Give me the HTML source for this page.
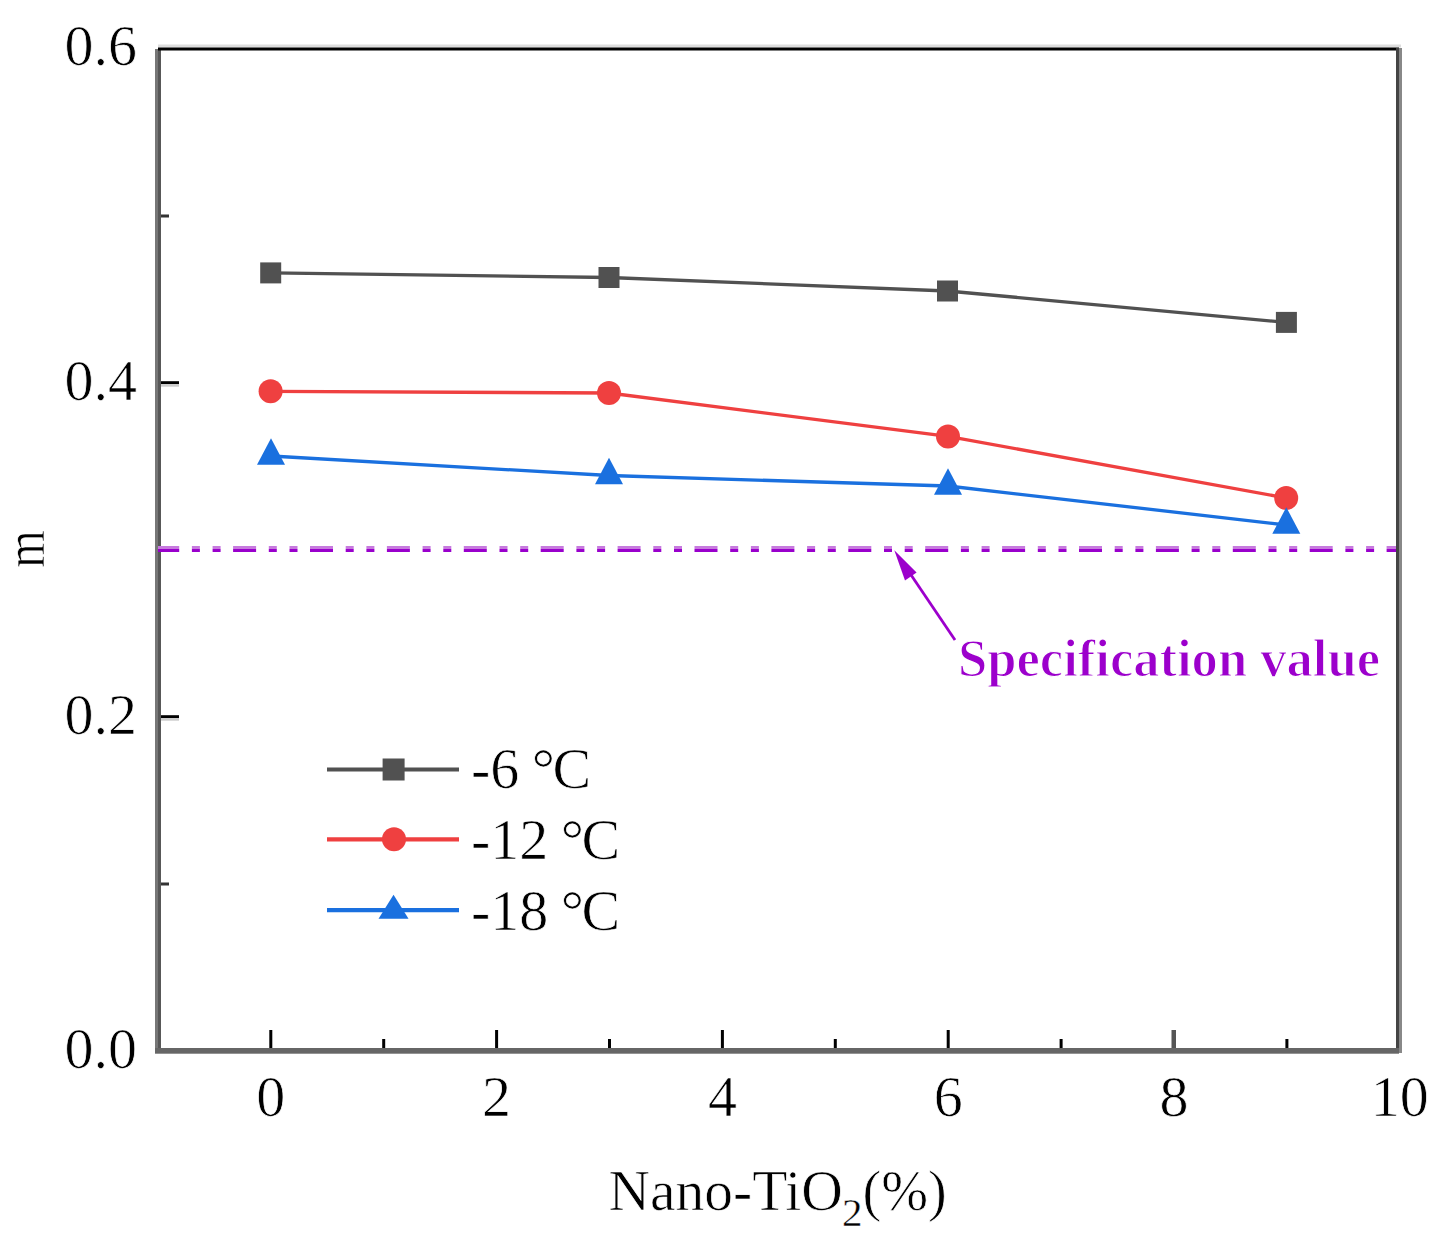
<!DOCTYPE html>
<html><head><meta charset="utf-8"><style>
html,body{margin:0;padding:0;background:#fff;}
body{width:1442px;height:1246px;overflow:hidden;font-family:"Liberation Serif",serif;}
svg{display:block;}
</style></head><body>
<svg width="1442" height="1246" viewBox="0 0 1442 1246">
<rect width="1442" height="1246" fill="#fff"/>
<rect x="155" y="49" width="3" height="1004" fill="#777"/>
<rect x="158" y="49" width="3" height="1004" fill="#585858"/>
<rect x="158" y="44.5" width="1243" height="3" fill="#ddd"/>
<rect x="158" y="47.5" width="1241" height="3" fill="#000"/>
<rect x="1396" y="48" width="3" height="1005" fill="#444"/>
<rect x="1399" y="48" width="3" height="1005" fill="#888"/>
<rect x="155" y="1048" width="1244" height="5.7" fill="#666"/>
<rect x="269.3" y="1030" width="3" height="18" fill="#000"/>
<rect x="495.1" y="1030" width="3" height="18" fill="#000"/>
<rect x="720.9" y="1030" width="3" height="18" fill="#000"/>
<rect x="946.7" y="1030" width="3" height="18" fill="#000"/>
<rect x="1171.5" y="1030" width="4.5" height="18" fill="#555"/>
<rect x="382.2" y="1039" width="3" height="9" fill="#000"/>
<rect x="608.0" y="1039" width="3" height="9" fill="#000"/>
<rect x="833.8" y="1039" width="3" height="9" fill="#000"/>
<rect x="1059.6" y="1039" width="3" height="9" fill="#000"/>
<rect x="1285.4" y="1039" width="3" height="9" fill="#000"/>
<rect x="161" y="715.2" width="18" height="3" fill="#000"/>
<rect x="161" y="718.2" width="18" height="2.5" fill="#ccc"/>
<rect x="161" y="381.2" width="18" height="3" fill="#000"/>
<rect x="161" y="384.2" width="18" height="2.5" fill="#ccc"/>
<rect x="161" y="882.5" width="8" height="3" fill="#333"/>
<rect x="161" y="548.5" width="8" height="3" fill="#333"/>
<rect x="161" y="214.5" width="8" height="3" fill="#333"/>
<line x1="158" y1="547.5" x2="1396" y2="547.5" stroke="#c77ade" stroke-width="2.8" stroke-dasharray="23 12.7 8 12.7 8 12.5" stroke-dashoffset="1.8"/>
<line x1="158" y1="550.5" x2="1396" y2="550.5" stroke="#9900cc" stroke-width="3" stroke-dasharray="23 12.7 8 12.7 8 12.5" stroke-dashoffset="1.8"/>
<polyline points="270.7,272.9 609.0,277.5 947.5,291.0 1286.4,322.4" fill="none" stroke="#515151" stroke-width="3.3"/>
<rect x="260.2" y="262.4" width="21" height="21" fill="#515151"/>
<rect x="598.5" y="267.0" width="21" height="21" fill="#515151"/>
<rect x="937.0" y="280.5" width="21" height="21" fill="#515151"/>
<rect x="1275.9" y="311.9" width="21" height="21" fill="#515151"/>
<polyline points="270.6,391.3 609.0,393.0 948.0,436.4 1286.2,498.0" fill="none" stroke="#ef4040" stroke-width="3.3"/>
<circle cx="270.6" cy="391.3" r="12" fill="#ef4040"/>
<circle cx="609.0" cy="393.0" r="12" fill="#ef4040"/>
<circle cx="948.0" cy="436.4" r="12" fill="#ef4040"/>
<circle cx="1286.2" cy="498.0" r="12" fill="#ef4040"/>
<polyline points="271.0,456.0 609.0,475.5 948.0,486.0 1286.3,525.0" fill="none" stroke="#1a70df" stroke-width="3.3"/>
<polygon points="271.0,438.2 285.0,464.8 257.0,464.8" fill="#1a70df"/>
<polygon points="609.0,457.7 623.0,484.3 595.0,484.3" fill="#1a70df"/>
<polygon points="948.0,468.2 962.0,494.8 934.0,494.8" fill="#1a70df"/>
<polygon points="1286.3,507.2 1300.3,533.8 1272.3,533.8" fill="#1a70df"/>
<line x1="955" y1="640" x2="905" y2="566" stroke="#9c00cc" stroke-width="2.8"/>
<polygon points="894.3,550.3 916.6,572.6 905,580.4" fill="#9c00cc"/>
<line x1="327" y1="769.5" x2="459" y2="769.5" stroke="#515151" stroke-width="4.2"/>
<rect x="382.6" y="758.5" width="22" height="22" fill="#515151"/>
<line x1="327" y1="839.3" x2="459" y2="839.3" stroke="#ef4040" stroke-width="4.2"/>
<circle cx="394" cy="839.3" r="12" fill="#ef4040"/>
<line x1="327" y1="910.2" x2="459" y2="910.2" stroke="#1a70df" stroke-width="4.2"/>
<polygon points="393.5,894.7 408.5,918.8000000000001 378.5,918.8000000000001" fill="#1a70df"/>
<text x="137" y="64.5" font-family="Liberation Serif, serif" font-size="58" text-anchor="end" fill="#000" stroke="#fff" stroke-width="0.7">0.6</text>
<text x="137" y="399.5" font-family="Liberation Serif, serif" font-size="58" text-anchor="end" fill="#000" stroke="#fff" stroke-width="0.7">0.4</text>
<text x="137" y="734" font-family="Liberation Serif, serif" font-size="58" text-anchor="end" fill="#000" stroke="#fff" stroke-width="0.7">0.2</text>
<text x="137" y="1067.5" font-family="Liberation Serif, serif" font-size="58" text-anchor="end" fill="#000" stroke="#fff" stroke-width="0.7">0.0</text>
<text x="270.8" y="1115.5" font-family="Liberation Serif, serif" font-size="58" text-anchor="middle" fill="#000" stroke="#fff" stroke-width="0.7">0</text>
<text x="496.6" y="1115.5" font-family="Liberation Serif, serif" font-size="58" text-anchor="middle" fill="#000" stroke="#fff" stroke-width="0.7">2</text>
<text x="722.4" y="1115.5" font-family="Liberation Serif, serif" font-size="58" text-anchor="middle" fill="#000" stroke="#fff" stroke-width="0.7">4</text>
<text x="948.2" y="1115.5" font-family="Liberation Serif, serif" font-size="58" text-anchor="middle" fill="#000" stroke="#fff" stroke-width="0.7">6</text>
<text x="1174.0" y="1115.5" font-family="Liberation Serif, serif" font-size="58" text-anchor="middle" fill="#000" stroke="#fff" stroke-width="0.7">8</text>
<text x="1399.8" y="1115.5" font-family="Liberation Serif, serif" font-size="58" text-anchor="middle" fill="#000" stroke="#fff" stroke-width="0.7">10</text>
<text transform="translate(608.5,1209.5) scale(0.992,1)" font-family="Liberation Serif, serif" font-size="58" fill="#000" stroke="#fff" stroke-width="0.7">Nano-TiO</text>
<text x="842" y="1225.5" font-family="Liberation Serif, serif" font-size="41" fill="#000" stroke="#fff" stroke-width="0.4">2</text>
<text transform="translate(862.5,1209.5) scale(0.97,1)" font-family="Liberation Serif, serif" font-size="58" fill="#000" stroke="#fff" stroke-width="0.7">(%)</text>
<text transform="translate(44,549) rotate(-90) scale(0.83,1)" font-family="Liberation Serif, serif" font-size="58" text-anchor="middle" fill="#000" stroke="#fff" stroke-width="0.7">m</text>
<text x="471" y="788.4" font-family="Liberation Serif, serif" font-size="58" fill="#000" stroke="#fff" stroke-width="0.7">-6 <tspan dx="-2">°</tspan><tspan dx="-2.5">C</tspan></text>
<text x="471" y="859.3" font-family="Liberation Serif, serif" font-size="58" fill="#000" stroke="#fff" stroke-width="0.7">-12 <tspan dx="-2">°</tspan><tspan dx="-2.5">C</tspan></text>
<text x="471" y="930.2" font-family="Liberation Serif, serif" font-size="58" fill="#000" stroke="#fff" stroke-width="0.7">-18 <tspan dx="-2">°</tspan><tspan dx="-2.5">C</tspan></text>
<text transform="translate(958,676) scale(1.0114,1)" font-family="Liberation Serif, serif" font-size="52" font-weight="bold" fill="#9c00cc" style="font-variant-ligatures:none" stroke="#fff" stroke-width="1.2">Specification value</text>
</svg>
</body></html>
